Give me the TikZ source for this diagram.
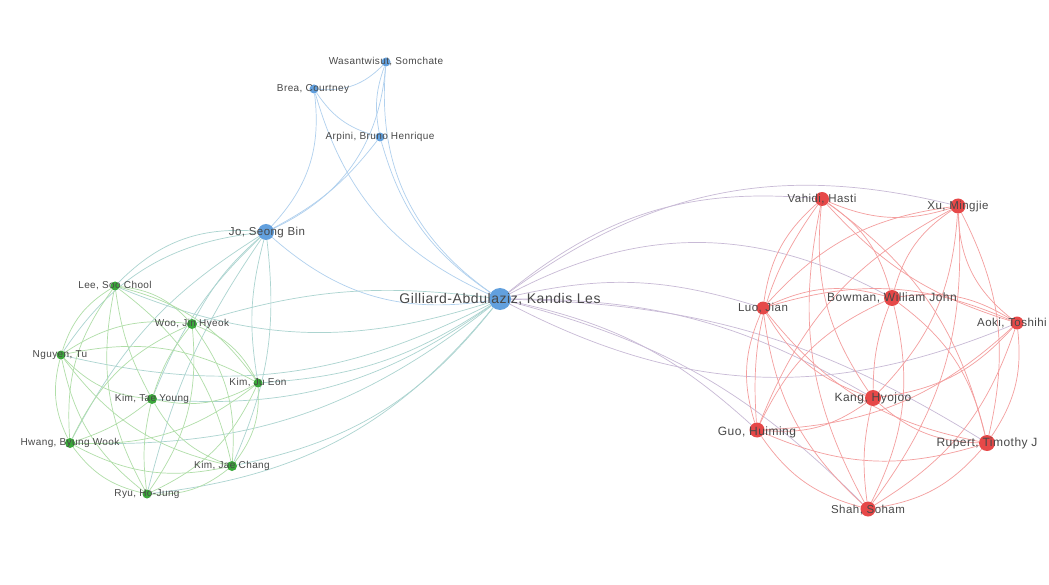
\documentclass[tikz,border=0pt]{standalone}
\usepackage{fontspec}
\setmainfont{Liberation Sans}[LetterSpace=4]
\usetikzlibrary{backgrounds}
\definecolor{nblue}{RGB}{98,160,222}
\definecolor{ngreen}{RGB}{58,168,58}
\definecolor{nred}{RGB}{230,72,72}
\definecolor{eblue}{RGB}{176,208,238}
\definecolor{egreen}{RGB}{176,222,168}
\definecolor{ered}{RGB}{244,158,158}
\definecolor{egb}{RGB}{172,212,208}
\definecolor{ebr}{RGB}{200,186,214}
\definecolor{labc}{RGB}{72,72,72}
\begin{document}
\begin{tikzpicture}[x=1pt,y=-1pt,
  nd/.style={circle, inner sep=0pt, minimum size=#1},
  bn/.style={nd=#1, fill=nblue},
  gn/.style={nd=#1, fill=ngreen},
  rn/.style={nd=#1, fill=nred},
  lab/.style={text=labc, inner sep=0pt, font=\fontsize{#1}{#1}\selectfont},
  eb/.style={draw=eblue, line width=0.7pt},
  eg/.style={draw=egreen, line width=0.7pt},
  er/.style={draw=ered, line width=0.7pt},
  egb/.style={draw=egb, line width=0.7pt},
  ebr/.style={draw=ebr, line width=0.7pt},
  cl/.style={bend left=#1}, cl/.default=20,
  cr/.style={bend right=#1}, cr/.default=20]
\useasboundingbox (0,0) rectangle (1049,585);
% blue nodes
\node[bn=22] (G) at (500,299) {};
\node[bn=16] (Jo) at (266,232) {};
\node[bn=9] (Wa) at (386,62) {};
\node[bn=9] (Br) at (314,89) {};
\node[bn=9] (Ar) at (380,137) {};
% green nodes
\node[gn=9] (Lee) at (115,286) {};
\node[gn=10] (Woo) at (192,324) {};
\node[gn=9] (Ngu) at (61,355) {};
\node[gn=9] (KJE) at (258,383) {};
\node[gn=10] (KTY) at (152,399) {};
\node[gn=10] (Hw) at (70,443) {};
\node[gn=10] (KJC) at (232,466) {};
\node[gn=9] (Ryu) at (147,494) {};
% red nodes
\node[rn=14] (Vah) at (822,199) {};
\node[rn=15] (Xu) at (958,206) {};
\node[rn=16] (Bow) at (892,298) {};
\node[rn=13] (Luo) at (763,308) {};
\node[rn=13] (Aoki) at (1017,323) {};
\node[rn=16] (Kang) at (873,398) {};
\node[rn=15] (Guo) at (757,430) {};
\node[rn=16] (Rup) at (987,443) {};
\node[rn=15] (Shah) at (868,509) {};
\begin{pgfonlayer}{background}
\fill[white] (0,0) rectangle (1049,585);
% blue cluster
\draw[eb] (Br) to[cr=25] (Wa);
\draw[eb] (Br) to[cr=20] (Ar);
\draw[eb] (Wa) to[cr=15] (Ar);
\draw[eb] (Jo) to[cr=30] (Wa);
\draw[eb] (Jo) to[cr=25] (Br);
\draw[eb] (Jo) to[cr=12] (Ar);
\draw[eb] (Jo) to[cr=25] (G);
\draw[eb] (Wa) to[cr=30] (G);
\draw[eb] (Br) to[cr=25] (G);
\draw[eb] (Ar) to[cr=20] (G);
% green to Jo
\draw[egb] (Jo) to[cr=25] (Lee);
\draw[egb] (Jo) to[cr=10] (Woo);
\draw[egb] (Jo) to[cr=25] (Ngu);
\draw[egb] (Jo) to[cr=12] (KJE);
\draw[egb] (Jo) to[cr=12] (KTY);
\draw[egb] (Jo) to[cr=15] (Hw);
\draw[egb] (Jo) to[cl=15] (KJC);
\draw[egb] (Jo) to[cr=10] (Ryu);
% green to G
\draw[egb] (Lee) to[cr=20] (G);
\draw[egb] (Woo) to[cl=12] (G);
\draw[egb] (Ngu) to[cr=20] (G);
\draw[egb] (KJE) to[cr=15] (G);
\draw[egb] (KTY) to[cr=20] (G);
\draw[egb] (Hw) to[cr=20] (G);
\draw[egb] (KJC) to[cr=20] (G);
\draw[egb] (Ryu) to[cr=22] (G);
% green cluster
\draw[eg] (Lee) to[cl] (Woo);
\draw[eg] (Lee) to[cr] (Ngu);
\draw[eg] (Lee) to[cl] (KJE);
\draw[eg] (Lee) to[cr=10] (KTY);
\draw[eg] (Lee) to[cr] (Hw);
\draw[eg] (Lee) to[cl] (KJC);
\draw[eg] (Lee) to[cr] (Ryu);
\draw[eg] (Woo) to[cr] (Ngu);
\draw[eg] (Woo) to[cl] (KJE);
\draw[eg] (Woo) to[cr=10] (KTY);
\draw[eg] (Woo) to[cr] (Hw);
\draw[eg] (Woo) to[cl] (KJC);
\draw[eg] (Woo) to[cl] (Ryu);
\draw[eg] (Ngu) to[cl] (KJE);
\draw[eg] (Ngu) to[cr] (KTY);
\draw[eg] (Ngu) to[cr] (Hw);
\draw[eg] (Ngu) to[cr] (KJC);
\draw[eg] (Ngu) to[cr] (Ryu);
\draw[eg] (KJE) to[cl] (KTY);
\draw[eg] (KJE) to[cl] (Hw);
\draw[eg] (KJE) to[cl] (KJC);
\draw[eg] (KJE) to[cl] (Ryu);
\draw[eg] (KTY) to[cl=10] (Hw);
\draw[eg] (KTY) to[cr] (KJC);
\draw[eg] (KTY) to[cr=10] (Ryu);
\draw[eg] (Hw) to[cr] (KJC);
\draw[eg] (Hw) to[cr] (Ryu);
\draw[eg] (KJC) to[cl] (Ryu);
% G to red
\draw[ebr] (G) to[cl=22] (Vah);
\draw[ebr] (G) to[cl=25] (Xu);
\draw[ebr] (G) to[cl=28] (Bow);
\draw[ebr] (G) to[cl=15] (Luo);
\draw[ebr] (G) to[cr=25] (Aoki);
\draw[ebr] (G) to[cl=15] (Kang);
\draw[ebr] (G) to[cl=15] (Guo);
\draw[ebr] (G) to[cl=15] (Rup);
\draw[ebr] (G) to[cl=15] (Shah);
% red cluster
\draw[er] (Vah) to[cr] (Xu);
\draw[er] (Vah) to[cl] (Bow);
\draw[er] (Vah) to[cr] (Luo);
\draw[er] (Vah) to[cr=15] (Aoki);
\draw[er] (Vah) to[cr] (Kang);
\draw[er] (Vah) to[cr] (Guo);
\draw[er] (Vah) to[cl] (Rup);
\draw[er] (Vah) to[cr] (Shah);
\draw[er] (Xu) to[cr] (Bow);
\draw[er] (Xu) to[cr] (Luo);
\draw[er] (Xu) to[cr=25] (Aoki);
\draw[er] (Xu) to[cl] (Kang);
\draw[er] (Xu) to[cr] (Guo);
\draw[er] (Xu) to[cl] (Rup);
\draw[er] (Xu) to[cl] (Shah);
\draw[er] (Bow) to[cr] (Luo);
\draw[er] (Bow) to[cl] (Aoki);
\draw[er] (Bow) to[cr=10] (Kang);
\draw[er] (Bow) to[cr] (Guo);
\draw[er] (Bow) to[cl] (Rup);
\draw[er] (Bow) to[cl] (Shah);
\draw[er] (Luo) to[cl] (Aoki);
\draw[er] (Luo) to[cr] (Kang);
\draw[er] (Luo) to[cr] (Guo);
\draw[er] (Luo) to[cr] (Rup);
\draw[er] (Luo) to[cr] (Shah);
\draw[er] (Aoki) to[cl] (Kang);
\draw[er] (Aoki) to[cl] (Guo);
\draw[er] (Aoki) to[cl] (Rup);
\draw[er] (Aoki) to[cl] (Shah);
\draw[er] (Kang) to[cl] (Guo);
\draw[er] (Kang) to[cr] (Rup);
\draw[er] (Kang) to[cr=10] (Shah);
\draw[er] (Guo) to[cr] (Rup);
\draw[er] (Guo) to[cr] (Shah);
\draw[er] (Rup) to[cl] (Shah);
\end{pgfonlayer}
% labels
\node[lab=14] (lG) at (500,299) {Gilliard-Abdulaziz, Kandis Les};
\node[lab=11.5] (lJo) at (267,233) {Jo, Seong Bin};
\node[lab=10] (lWa) at (386,62) {Wasantwisut, Somchate};
\node[lab=10] (lBr) at (313,89) {Brea, Courtney};
\node[lab=10] (lAr) at (380,137) {Arpini, Bruno Henrique};
\node[lab=10] (lLee) at (115,286) {Lee, Soo Chool};
\node[lab=10] (lWoo) at (192,324) {Woo, Jin Hyeok};
\node[lab=10] (lNgu) at (60,355) {Nguyen, Tu};
\node[lab=10] (lKJE) at (258,383) {Kim, Ju Eon};
\node[lab=10] (lKTY) at (152,399) {Kim, Tae Young};
\node[lab=10] (lHw) at (70,443) {Hwang, Byung Wook};
\node[lab=10] (lKJC) at (232,466) {Kim, Jae Chang};
\node[lab=10] (lRyu) at (147,494) {Ryu, Ho-Jung};
\node[lab=11.5] (lVah) at (822,199) {Vahidi, Hasti};
\node[lab=11.5] (lXu) at (958,207) {Xu, Mingjie};
\node[lab=12] (lBow) at (892,298) {Bowman, William John};
\node[lab=11.5] (lLuo) at (763,308) {Luo, Jian};
\node[lab=11.5] (lAoki) at (1012,323) {Aoki, Toshihi};
\node[lab=12] (lKang) at (873,398) {Kang, Hyojoo};
\node[lab=12] (lGuo) at (757,432) {Guo, Huiming};
\node[lab=12] (lRup) at (987,443) {Rupert, Timothy J};
\node[lab=11.5] (lShah) at (868,510) {Shah, Soham};
\end{tikzpicture}
\end{document}
